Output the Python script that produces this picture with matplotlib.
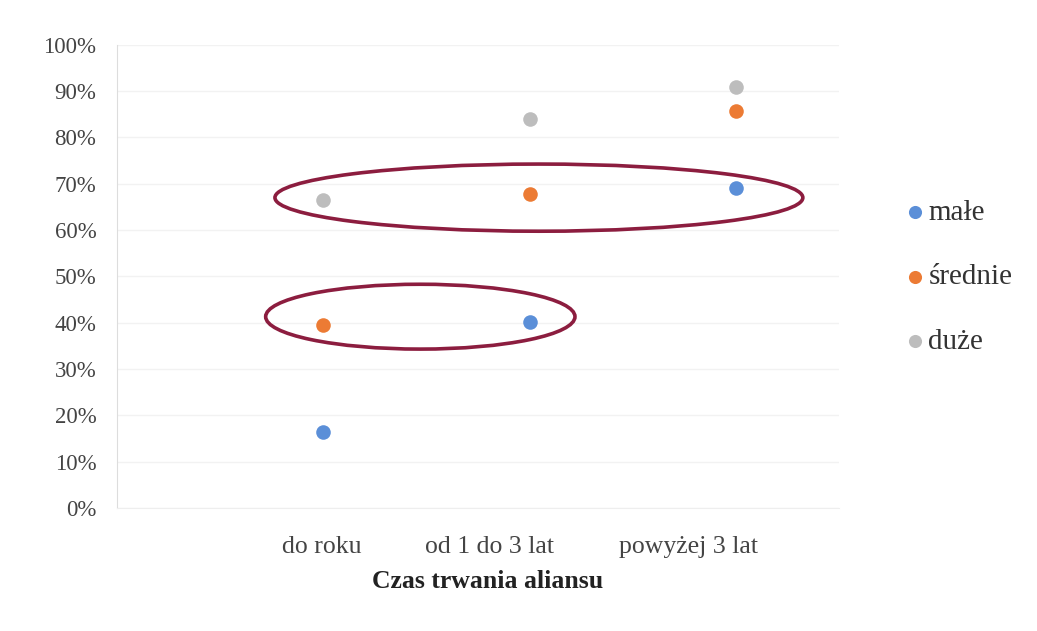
import matplotlib.pyplot as plt
import matplotlib.transforms as mtransforms
from matplotlib.patches import Ellipse
from matplotlib.ticker import PercentFormatter

# udział firm wg czasu trwania aliansu
categories = ["do roku", "od 1 do 3 lat", "powyżej 3 lat"]
x_pos = [1, 2, 3]
male = [16.4, 40.2, 69.1]
srednie = [39.5, 67.8, 85.7]
duze = [66.5, 84.0, 90.9]

series = [("małe", male, "#5b8fd8"),
          ("średnie", srednie, "#ec7b34"),
          ("duże", duze, "#bdbdbd")]

# wyróżnione grupy (środek x, środek y, szerokość, wysokość)
highlights = [(2.045, 67.0, 2.56, 14.5),
              (1.47, 41.3, 1.50, 14.0)]

# przesunięcie podpisów kategorii w poziomie (w punktach)
label_shift = [-1, -29, -34]

plt.rcParams["font.family"] = ["Liberation Serif", "DejaVu Serif"]

fig = plt.figure(figsize=(10.37, 6.31), dpi=100)
ax = fig.add_axes([0.113, 0.195, 0.696, 0.734])

for name, vals, col in series:
    ax.scatter(x_pos, vals, s=110, color=col, label=name, zorder=3, linewidths=0)

for cx, cy, w, h in highlights:
    ax.add_patch(Ellipse((cx, cy), w, h, fill=False, edgecolor="#8c1d3f",
                         linewidth=2.6, zorder=4))

ax.set_xlim(0, 3.5)
ax.set_ylim(0, 100)
ax.set_yticks(range(0, 101, 10))
ax.yaxis.set_major_formatter(PercentFormatter(decimals=0))
ax.set_xticks(x_pos)
ax.set_xticklabels(categories)
ax.tick_params(axis="both", length=0, colors="#444444")
ax.tick_params(axis="y", labelsize=16.5, pad=15)
ax.tick_params(axis="x", labelsize=18.5, pad=20)
for lbl, dx in zip(ax.get_xticklabels(), label_shift):
    lbl.set_transform(lbl.get_transform() +
                      mtransforms.ScaledTranslation(dx / 72, 0, fig.dpi_scale_trans))

ax.set_xlabel("Czas trwania aliansu", fontsize=18.5, fontweight="bold",
              color="#222222", labelpad=2)
ax.xaxis.set_label_coords(0.513, -0.135)

ax.grid(axis="y", color="#f2f2f2", linewidth=1.0)
ax.set_axisbelow(True)
for side in ["top", "right"]:
    ax.spines[side].set_visible(False)
ax.spines["left"].set_color("#dddddd")
ax.spines["bottom"].set_color("#eeeeee")

leg = fig.legend(loc="center left", bbox_to_anchor=(0.8756, 0.561), frameon=False,
                 fontsize=21, labelspacing=1.3, handlelength=0.5,
                 handletextpad=0.2, borderpad=0, borderaxespad=0,
                 markerscale=0.9)
for t in leg.get_texts():
    t.set_color("#333333")

fig.savefig("out.png", dpi=100, facecolor="white")
